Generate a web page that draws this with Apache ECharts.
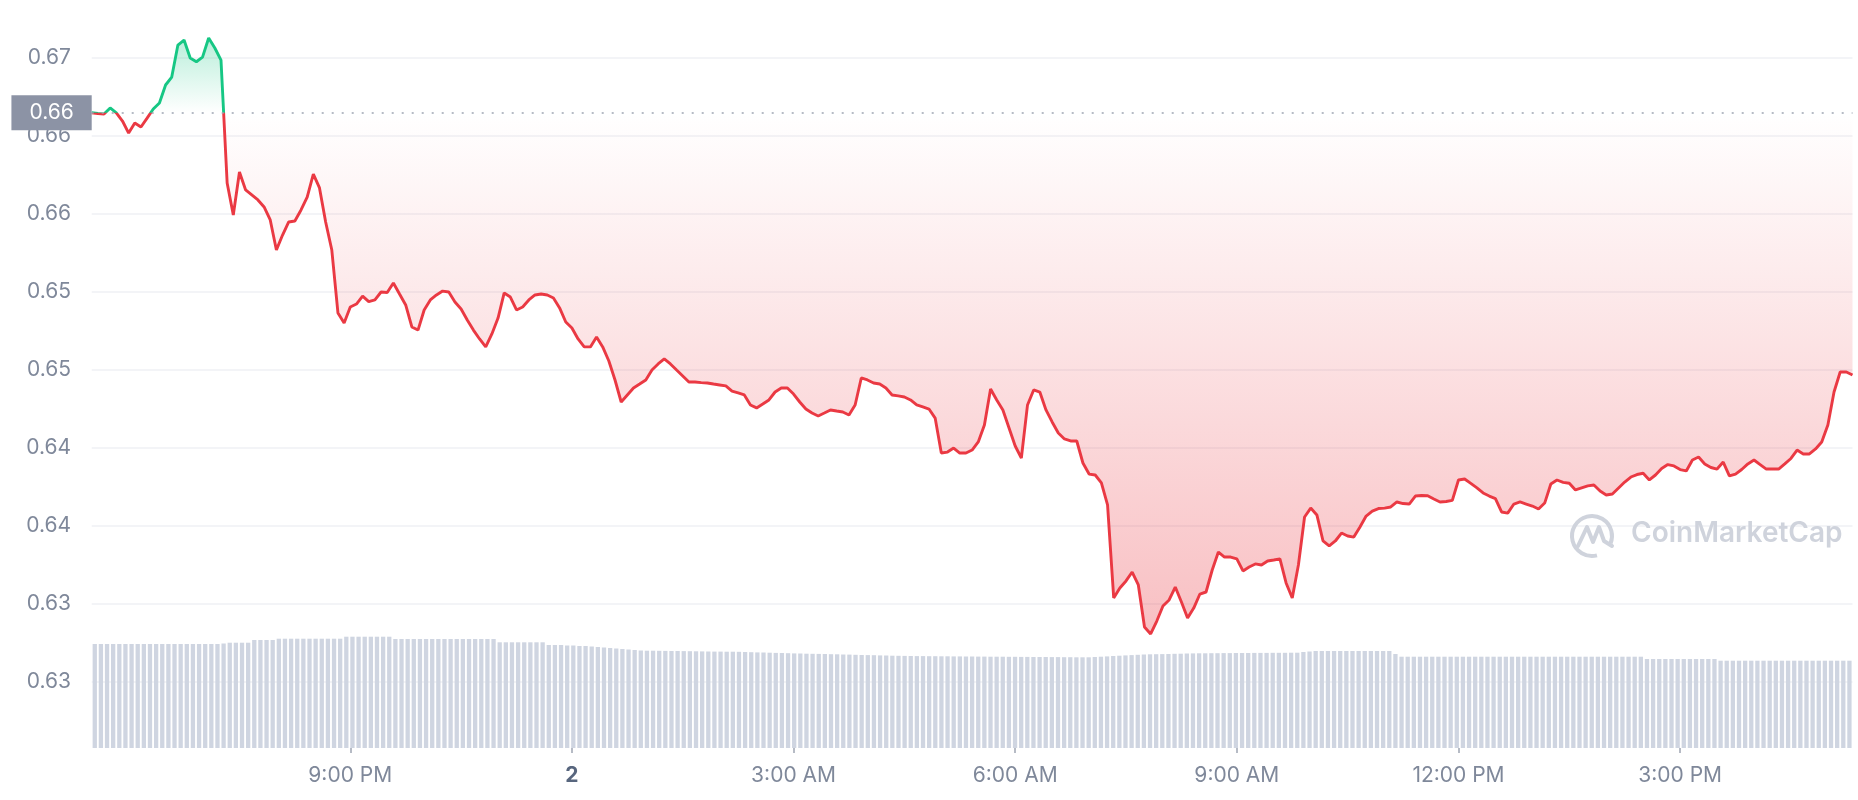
<!DOCTYPE html>
<html>
<head>
<meta charset="utf-8">
<script src="https://cdn.jsdelivr.net/npm/echarts@6/dist/echarts.min.js"></script>
<style>
html,body{margin:0;padding:0;background:#ffffff;}
#chart{width:1858px;height:800px;}
</style>
</head>
<body>
<div id="chart"></div>
<script>
// ---- data ----
const startTime = '17:30';      // time of first sample
const stepMinutes = 5;          // sampling step

const prices = [
0.66647,0.66642,0.66639,0.66678,0.66646,0.66594,0.66517,0.66581,0.66556,0.66613,
0.66671,0.66710,0.66825,0.66876,0.67081,0.67113,0.66998,0.66974,0.67004,0.67126,
0.67062,0.66985,0.66197,0.65992,0.66267,0.66152,0.66120,0.66088,0.66043,0.65960,
0.65767,0.65863,0.65947,0.65953,0.66024,0.66107,0.66254,0.66165,0.65947,0.65767,
0.65363,0.65299,0.65402,0.65421,0.65472,0.65436,0.65447,0.65498,0.65495,0.65556,
0.65485,0.65415,0.65274,0.65254,0.65383,0.65447,0.65479,0.65504,0.65498,0.65434,
0.65389,0.65319,0.65254,0.65197,0.65146,0.65229,0.65331,0.65492,0.65466,0.65383,
0.65402,0.65447,0.65479,0.65485,0.65479,0.65460,0.65396,0.65306,0.65267,0.65197,
0.65146,0.65146,0.65210,0.65146,0.65056,0.64934,0.64793,0.64838,0.64883,0.64908,
0.64934,0.64998,0.65037,0.65069,0.65037,0.64998,0.64960,0.64921,0.64921,0.64917,
0.64915,0.64908,0.64902,0.64896,0.64863,0.64851,0.64838,0.64774,0.64755,0.64780,
0.64806,0.64857,0.64883,0.64883,0.64844,0.64793,0.64748,0.64722,0.64703,0.64722,
0.64742,0.64735,0.64729,0.64710,0.64774,0.64947,0.64934,0.64915,0.64908,0.64883,
0.64838,0.64832,0.64825,0.64806,0.64774,0.64761,0.64748,0.64690,0.64466,0.64472,
0.64498,0.64466,0.64466,0.64485,0.64537,0.64646,0.64876,0.64806,0.64742,0.64626,
0.64511,0.64434,0.64774,0.64870,0.64857,0.64742,0.64665,0.64594,0.64556,0.64543,
0.64543,0.64402,0.64331,0.64325,0.64274,0.64133,0.63537,0.63601,0.63646,0.63703,
0.63620,0.63351,0.63306,0.63389,0.63485,0.63524,0.63607,0.63511,0.63408,0.63472,
0.63562,0.63575,0.63716,0.63831,0.63799,0.63799,0.63787,0.63710,0.63735,0.63755,
0.63748,0.63774,0.63780,0.63787,0.63633,0.63537,0.63748,0.64056,0.64113,0.64069,
0.63902,0.63870,0.63902,0.63953,0.63934,0.63927,0.63992,0.64062,0.64094,0.64110,
0.64113,0.64120,0.64152,0.64142,0.64139,0.64190,0.64194,0.64192,0.64171,0.64152,
0.64155,0.64162,0.64293,0.64299,0.64271,0.64242,0.64210,0.64190,0.64174,0.64088,
0.64081,0.64139,0.64152,0.64139,0.64126,0.64107,0.64145,0.64267,0.64293,0.64278,
0.64272,0.64229,0.64242,0.64255,0.64261,0.64222,0.64197,0.64203,0.64242,0.64280,
0.64312,0.64328,0.64336,0.64293,0.64325,0.64367,0.64392,0.64383,0.64360,0.64351,
0.64421,0.64440,0.64396,0.64373,0.64363,0.64408,0.64319,0.64331,0.64360,0.64396,
0.64421,0.64392,0.64363,0.64363,0.64363,0.64396,0.64431,0.64485,0.64460,0.64460,
0.64492,0.64537,0.64646,0.64857,0.64985,0.64985,0.64966
];

// volume bars (relative units)
const volumes = [
104,104,104,104,104,104,104,104,104,104,
104,104,104,104,104,104,104,104,104,104,
104,104.5,105.3,105.3,105.3,105.3,108,108,108,108,
109.3,109.3,109.3,109.3,109.3,109.3,109.3,109.3,109.3,109.3,
109.3,111.3,111.3,111.3,111.3,111.3,111.3,111.3,111.3,109,
109,109,109,109,109,109,109,109,109,109,
109,109,109,109,109,109,105.7,105.7,105.7,105.7,
105.7,105.7,105.7,105.7,103,103,103,102.5,102.5,102,
102,101.5,101,100.5,100,99.5,99,98.5,98,97.5,
97.3,97.3,97.2,97.1,97,97,96.9,96.8,96.7,96.6,
96.5,96.4,96.4,96.3,96.3,96.2,96,95.8,95.6,95.5,
95.3,95.1,95,94.8,94.6,94.5,94.3,94.2,94.1,94,
93.8,93.7,93.5,93.4,93.2,93,92.9,92.8,92.6,92.5,
92.3,92.2,92.1,92,91.9,91.9,91.8,91.8,91.7,91.7,
91.6,91.6,91.5,91.5,91.4,91.4,91.3,91.3,91.3,91.2,
91.2,91.1,91.1,91,91,91,90.9,90.9,90.8,90.8,
90.7,90.7,90.7,91,91.3,91.6,92,92.3,92.6,92.9,
93.2,93.5,93.7,93.8,93.9,94,94.2,94.3,94.5,94.6,
94.7,94.7,94.8,94.8,94.9,94.9,95,95,95,95.1,
95.1,95.1,95.2,95.2,95.2,95.3,95.3,96,96.5,97,
97,97,97,97,97,97,97,97,97,97,
97,97,94,91.3,91.3,91.3,91.3,91.3,91.3,91.3,
91.3,91.3,91.3,91.3,91.3,91.3,91.3,91.3,91.3,91.3,
91.3,91.3,91.3,91.3,91.3,91.3,91.3,91.3,91.3,91.3,
91.3,91.3,91.3,91.3,91.3,91.3,91.3,91.3,91.3,91.3,
91.3,91.3,91.3,89,89,89,89,89,89,89,
89,89,89,89,89,87.3,87.3,87.3,87.3,87.3,
87.3,87.3,87.3,87.3,87.3,87.3,87.3,87.3,87.3,87.3,
87.3,87.3,87.3,87.3,87.3,87.3,87.3
];

const yTickValues = [0.630,0.635,0.640,0.645,0.650,0.655,0.660,0.665,0.670];
const yTickLabels = ['0.63','0.63','0.64','0.64','0.65','0.65','0.66','0.66','0.67'];
const xTickLabels = {
  '21:00':'9:00 PM','00:00':'2','03:00':'3:00 AM','06:00':'6:00 AM',
  '09:00':'9:00 AM','12:00':'12:00 PM','15:00':'3:00 PM'
};
const baselineLabel = '0.66';
const watermarkText = 'CoinMarketCap';

// ---- derived ----
const basePrice = prices[0];
const categories = (function(){
  const p = startTime.split(':').map(Number);
  const m = p[0]*60 + p[1];
  const out = [];
  for (let i = 0; i < prices.length; i++) {
    const t = (m + i*stepMinutes) % 1440;
    out.push(String(Math.floor(t/60)).padStart(2,'0') + ':' + String(t%60).padStart(2,'0'));
  }
  return out;
})();

const GREEN = '#16c784', RED = '#ea3943';
const GRID_COLOR = '#eff1f4';
const LABEL_COLOR = '#7f889a';
const FONT = 'Inter';
const FS = 21;
const WM = '#cfd3dc';

const pMax = Math.max.apply(null, prices), pMin = Math.min.apply(null, prices);
const splitColors = ['rgba(0,0,0,0)'].concat(yTickValues.map(() => GRID_COLOR)).concat(['rgba(0,0,0,0)']);

const chart = echarts.init(document.getElementById('chart'), null, {renderer:'canvas'});

const option = {
  backgroundColor: '#ffffff',
  animation: false,
  grid: [
    {left: 91.7, right: 5.5, top: 18.7, bottom: 40.3, outerBoundsMode: 'none', containLabel: false},
    {left: 91.7, right: 5.5, top: 598, bottom: 52, outerBoundsMode: 'none', containLabel: false}
  ],
  xAxis: [
    {
      type: 'category', gridIndex: 0, data: categories, boundaryGap: false,
      offset: -11.7,
      axisLine: {show: false},
      axisTick: {show: true, interval: (i, v) => (v in xTickLabels), length: 5,
                 lineStyle: {color: '#9ea5b3', width: 1.5}},
      axisLabel: {
        interval: (i, v) => (v in xTickLabels),
        formatter: v => (v === '00:00' ? '{b|' + xTickLabels[v] + '}' : (xTickLabels[v] || '')),
        margin: 17, fontSize: FS, color: LABEL_COLOR, fontFamily: FONT,
        rich: {b: {fontSize: FS, fontWeight: 'bold', color: '#58667e', fontFamily: FONT}}
      },
      splitLine: {show: false}
    },
    {
      type: 'category', gridIndex: 1, data: categories, boundaryGap: true, show: false
    }
  ],
  yAxis: [
    {
      type: 'value', gridIndex: 0, min: 0.625, max: 0.6725, interval: 0.005,
      axisLine: {show: false}, axisTick: {show: false},
      axisLabel: {
        margin: 20.7, fontSize: FS, color: LABEL_COLOR, fontFamily: FONT,
        formatter: v => {
          const k = yTickValues.findIndex(t => Math.abs(t - v) < 1e-7);
          return k >= 0 ? yTickLabels[k] : '';
        }
      },
      splitLine: {show: true, lineStyle: {color: splitColors, width: 1.5}}
    },
    {
      type: 'value', gridIndex: 1, min: 0, max: 150, show: false, splitLine: {show: false}
    }
  ],
  graphic: [
    {
      type: 'arc', z: 1, silent: true,
      shape: {cx: 1592, cy: 536, r: 20, startAngle: Math.PI*0.42, endAngle: Math.PI*2.12},
      style: {stroke: WM, lineWidth: 4, fill: null}
    },
    {
      type: 'polyline', z: 1, silent: true,
      shape: {points: [[1578,546],[1587,527],[1593,542],[1599,527],[1604,541],[1612,546]]},
      style: {stroke: WM, lineWidth: 4, fill: null, lineJoin: 'round', lineCap: 'round'}
    },
    {
      type: 'text', z: 1, silent: true, left: 1631, top: 520,
      style: {text: watermarkText, fill: WM, fontSize: 28, fontWeight: 600, fontFamily: FONT}
    }
  ],
  series: [
    {
      id: 'price', type: 'line', xAxisIndex: 0, yAxisIndex: 0, data: prices,
      symbol: 'none', smooth: false, z: 3,
      lineStyle: {width: 2.9, color: RED},
      areaStyle: {origin: basePrice, opacity: 1, color: 'rgba(234,57,67,0.1)'},
      markLine: {
        silent: true, animation: false, symbol: ['none', 'none'], precision: 6,
        data: [{yAxis: basePrice}],
        lineStyle: {color: '#9ea5b3', type: [2, 8], width: 1.5},
        label: {
          show: true, position: 'start', formatter: baselineLabel, distance: 0,
          color: '#ffffff', backgroundColor: '#8c93a5',
          padding: [7, 18, 6, 18], fontSize: FS, lineHeight: 22, fontFamily: FONT
        },
        emphasis: {disabled: true}
      }
    },
    {
      id: 'volume', type: 'bar', xAxisIndex: 1, yAxisIndex: 1, data: volumes,
      barWidth: '70%', itemStyle: {color: '#cfd5e1'}, z: 1, silent: true
    }
  ]
};
chart.setOption(option);

// colour the line / fill above and below the opening price, in pixel space of the price axis
const yBase = chart.convertToPixel({yAxisIndex: 0}, basePrice);
const yTop = chart.convertToPixel({yAxisIndex: 0}, pMax);
const yBot = chart.convertToPixel({yAxisIndex: 0}, pMin);
const s = (yBase - yTop) / (yBot - yTop);
chart.setOption({
  series: [{
    id: 'price',
    lineStyle: {
      color: new echarts.graphic.LinearGradient(0, yBase - 0.5, 0, yBase + 0.5,
        [{offset: 0, color: GREEN}, {offset: 1, color: RED}], true)
    },
    areaStyle: {
      color: new echarts.graphic.LinearGradient(0, yTop, 0, yBot, [
        {offset: 0, color: 'rgba(22,199,132,0.30)'},
        {offset: s, color: 'rgba(22,199,132,0.0)'},
        {offset: s, color: 'rgba(234,57,67,0.0)'},
        {offset: 1, color: 'rgba(234,57,67,0.32)'}
      ], true)
    }
  }]
});
</script>
</body>
</html>
